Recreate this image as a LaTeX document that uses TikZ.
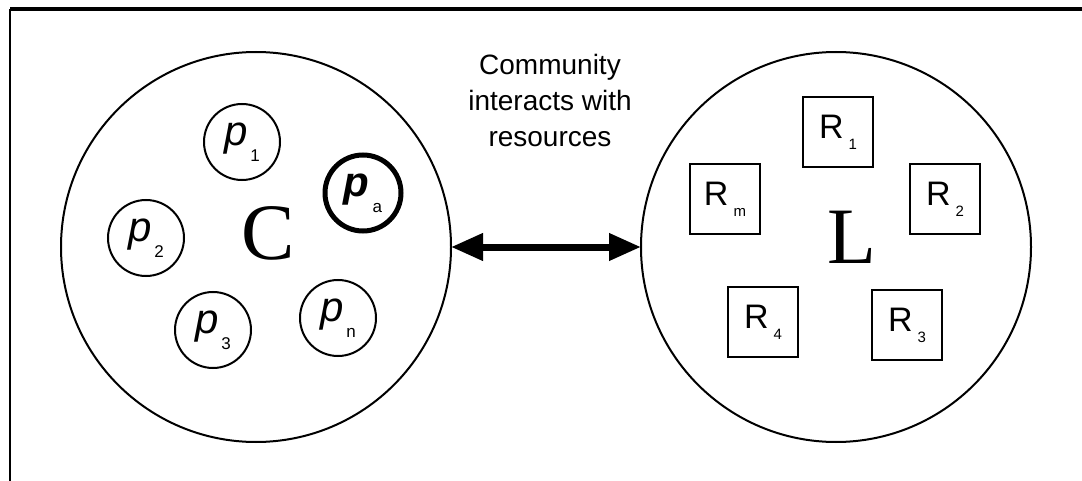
\documentclass[tikz,border=0pt]{standalone}
\usepackage{fontspec}
\setmainfont{Liberation Serif}
\setsansfont{Liberation Sans}
\usetikzlibrary{arrows.meta}

\newcommand{\psub}[2]{#1\kern1.5pt\raisebox{-8pt}{\upshape\mdseries\fontsize{8.5}{8.5}\selectfont #2}}
\newcommand{\rsub}[1]{R\kern2.5pt\raisebox{-5.5pt}{\fontsize{7.5}{7.5}\selectfont #1}}

\begin{document}
\begin{tikzpicture}[x=0.5pt, y=-0.5pt]%
  \tikzset{link arrow/.style={draw,{Triangle[length=16pt,width=13pt]}-{Triangle[length=16pt,width=13pt]},line width=3.5pt}}
  \tikzstyle{every node}=[draw=none, outer sep=0pt, inner sep=0pt, font=\sffamily]
  \tikzstyle{species}=[draw, circle, line width=1pt, minimum size=38pt, font=\sffamily\fontsize{21}{21}\selectfont]
  \tikzstyle{resource}=[draw, rectangle, line width=0.8pt, minimum size=35pt, font=\sffamily\fontsize{17}{17}\selectfont]
  \tikzstyle{pool}=[draw, circle, line width=1pt, minimum size=195pt]
  \tikzstyle{big letter}=[font=\rmfamily\fontsize{40}{40}\selectfont]

  \useasboundingbox (0,0) rectangle (1082,481);
  % frame
  \draw[line width=0.9pt] (10,481) -- (10,9);
  \draw[line width=1.6pt] (10,9) -- (1082,9);

  % community
  \node[pool] at (256,247) (comm) {};
  \node[big letter] at (268,233) (C) {C};
  \node[species] at (242,142) (p1) {\psub{\itshape p}{1}};
  \node[species] at (146,238) (p2) {\psub{\itshape p}{2}};
  \node[species] at (213,330) (p3) {\psub{\itshape p}{3}};
  \node[species] at (338,318) (pn) {\psub{\itshape p}{n}};
  \node[species, line width=2.5pt] at (363,193) (pa) {\psub{\bfseries\itshape p}{a}};

  % resources
  \node[pool] at (836,247) (land) {};
  \node[big letter] at (852,237) (L) {L};
  \node[resource] at (838,132) (R1) {\rsub{1}};
  \node[resource] at (945,199) (R2) {\rsub{2}};
  \node[resource] at (907,325) (R3) {\rsub{3}};
  \node[resource] at (763,322) (R4) {\rsub{4}};
  \node[resource] at (725,199) (Rm) {\rsub{m}};

  \node[align=center, font=\sffamily\fontsize{14}{18}\selectfont] at (550,100) (label) {Community\\interacts with\\resources};

  \path[link arrow] (comm) -- (land);
\end{tikzpicture}
\end{document}
